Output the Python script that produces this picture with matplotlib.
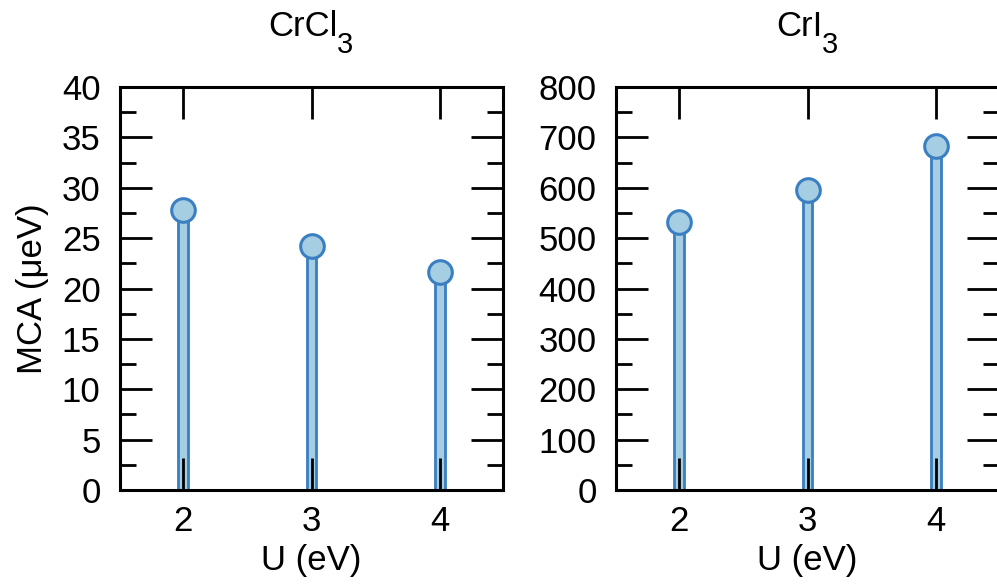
import numpy as np
import matplotlib.pyplot as plt
from matplotlib.ticker import MultipleLocator

plt.rcParams['font.family'] = ['Liberation Sans', 'DejaVu Sans']

# data
U = [2, 3, 4]
mca_crcl3 = [27.8, 24.2, 21.6]
mca_cri3 = [532, 596, 682]

titles = [('CrCl', '3'), ('CrI', '3')]
ylims = [40, 800]
ysteps = [5, 100]

fill = '#a6cee3'
edge = '#3a7fc1'
W, H = 997, 588
fs = 25

fig = plt.figure(figsize=(W / 100, H / 100), dpi=100)
ax1 = fig.add_axes([120/W, 98/H, 383/W, 403/H])
ax2 = fig.add_axes([616/W, 98/H, 383/W, 403/H])

for ax, vals, ym, st in zip([ax1, ax2], [mca_crcl3, mca_cri3], ylims, ysteps):
    ax.bar(U, vals, width=0.075, color=fill, edgecolor=edge, linewidth=2)
    ax.plot(U, vals, 'o', ms=17, mfc=fill, mec=edge, mew=2.2, zorder=4)
    ax.set_xlim(1.51, 4.49)
    ax.set_ylim(0, ym)
    ax.set_xticks(U)
    ax.yaxis.set_major_locator(MultipleLocator(st))
    ax.yaxis.set_minor_locator(MultipleLocator(st / 2))
    ax.tick_params(which='both', direction='in', top=True, right=True,
                   labelsize=fs, width=2, pad=14)
    ax.tick_params(which='major', length=23)
    ax.tick_params(which='minor', length=11.5)
    ax.tick_params(axis='x', pad=11)
    for s in ax.spines.values():
        s.set_linewidth(2.2)
    ax.set_xlabel('U (eV)', fontsize=fs, labelpad=4)

ax1.set_ylabel('MCA (μeV)', fontsize=fs, labelpad=9)

# titles with a large, low subscript
fig.canvas.draw()
r = fig.canvas.get_renderer()
for ax, (main_txt, sub_txt) in zip([ax1, ax2], titles):
    m = fig.text(0, 0, main_txt, fontsize=fs, va='baseline')
    s = fig.text(0, 0, sub_txt, fontsize=21, va='baseline')
    wm = m.get_window_extent(r).width
    ws = s.get_window_extent(r).width
    bb = ax.get_window_extent(r)
    x0 = (bb.x0 + bb.x1) / 2 - (wm + ws) / 2
    m.set_position((x0 / W, (H - 36) / H))
    s.set_position(((x0 + wm - 1) / W, (H - 53) / H))

fig.savefig('out.png', dpi=100)
